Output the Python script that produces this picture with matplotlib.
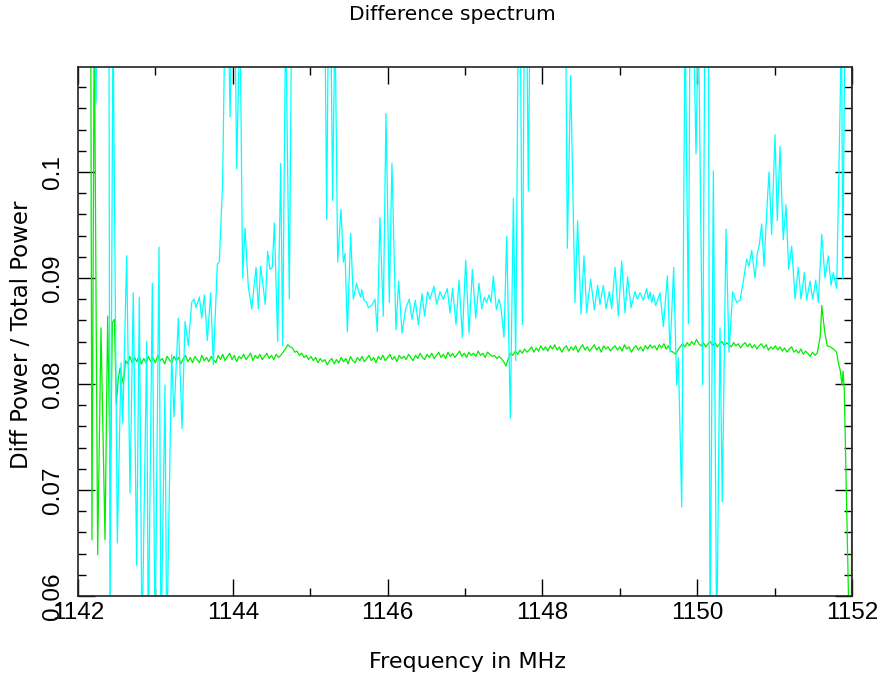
import numpy as np
import matplotlib
matplotlib.use("Agg")
import matplotlib.pyplot as plt
from matplotlib.ticker import MultipleLocator, FuncFormatter

# values are in units of 1e-3 (diff power / total power)
# green: first few channels, then an evenly spaced run, then the band edge
green_start_f = [1142.165, 1142.18, 1142.21, 1142.254, 1142.297, 1142.349, 1142.383,
                 1142.418, 1142.444, 1142.47, 1142.495, 1142.52, 1142.543, 1142.586, 1142.615]
green_start_v = [115, 65.3, 115, 63.9, 85.3, 65.3, 86.4,
                 70.7, 85.8, 86.1, 78.1, 80.5, 81.5, 80.0, 82.2]

green_mid_v = [
    81.9, 82.6, 82.0, 82.5, 82.1, 82.7, 81.9, 82.4, 82.0, 82.6,
    82.1, 82.5, 82.0, 82.7, 82.2, 82.4, 81.9, 82.6, 82.3, 82.0,
    82.6, 82.2, 82.5, 81.9, 82.4, 82.7, 82.1, 82.5, 82.0, 82.6,
    82.3, 82.0, 82.7, 82.2, 82.5, 82.1, 82.6, 82.3, 82.0, 82.7,
    82.3, 82.8, 82.2, 82.6, 82.9, 82.3, 82.7, 82.1, 82.6, 82.4,
    82.8, 82.3, 82.6, 82.9, 82.2, 82.7, 82.4, 82.8, 82.3, 82.6,
    82.9, 82.4, 82.7, 82.3, 82.8, 82.5, 82.7, 83.0, 83.3, 83.7,
    83.5, 83.4, 83.0, 83.1, 82.7, 82.9, 82.5, 82.7, 82.3, 82.6,
    82.2, 82.5, 82.0, 82.4, 82.1, 82.3, 81.8, 82.2, 82.4, 81.9,
    82.3, 82.0, 82.5, 82.1, 82.4, 81.9, 82.6, 82.2, 82.0, 82.5,
    82.2, 82.6, 82.1, 82.4, 82.7, 82.2, 82.5, 82.0, 82.6, 82.3,
    82.7, 82.2, 82.5, 82.8, 82.3, 82.6, 82.1, 82.7, 82.4, 82.6,
    82.3, 82.8, 82.5, 82.2, 82.7, 82.4, 82.9, 82.5, 82.3, 82.8,
    82.5, 82.9, 82.4, 82.7, 83.0, 82.5, 82.8, 82.4, 83.0, 82.6,
    82.9, 82.5, 82.8, 83.1, 82.6, 82.9, 82.5, 83.0, 82.7, 82.9,
    82.6, 83.1, 82.7, 82.9, 82.5, 83.0, 82.8, 82.6, 82.7, 82.4,
    82.6, 82.4, 82.1, 81.7, 82.4, 82.9, 82.7, 83.1, 82.8, 83.2,
    82.9, 83.3, 83.0, 83.2, 83.5, 83.0, 83.4, 83.1, 83.6, 83.2,
    83.5, 83.1, 83.6, 83.3, 83.7, 83.2, 83.5, 83.0, 83.4, 83.6,
    83.1, 83.5, 83.2, 83.6, 83.0, 83.4, 83.7, 83.2, 83.5, 83.1,
    83.4, 83.7, 83.2, 83.5, 83.0, 83.6, 83.3, 83.5, 83.1, 83.4,
    83.6, 83.2, 83.5, 83.1, 83.7, 83.3, 83.5, 83.0, 83.4, 83.6,
    83.2, 83.5, 83.1, 83.6, 83.3, 83.7, 83.4, 83.6, 83.2, 83.7,
    83.4, 83.8, 83.3, 83.6, 83.1, 83.0, 82.8, 83.2, 83.5, 83.8,
    83.5, 83.9, 83.6, 84.0, 83.7, 84.2, 83.8, 83.6, 83.9, 83.5,
    83.8, 84.0, 83.6, 83.9, 83.5, 83.8, 84.0, 83.6, 83.9, 83.7,
    83.5, 83.9, 83.6, 83.8, 83.4, 83.7, 83.9, 83.5, 83.8, 83.4,
    83.7, 83.3, 83.6, 83.8, 83.4, 83.7, 83.2, 83.5, 83.3, 83.6,
    83.2, 83.5, 83.1, 83.4, 83.0, 83.3, 83.5, 83.0, 83.2, 82.9,
    83.3, 82.8, 83.1, 82.9, 82.6, 83.0, 82.7, 82.9,
]
green_mid_f0 = 1142.64
green_mid_step = 0.03

green_end_f = [1151.59, 1151.61, 1151.63, 1151.65, 1151.68, 1151.72, 1151.76, 1151.8,
               1151.83, 1151.85, 1151.87, 1151.885, 1151.9, 1151.96, 1151.994, 1151.996]
green_end_v = [84.5, 87.4, 86.0, 84.8, 83.6, 83.5, 83.3, 83.0,
               81.8, 81.2, 79.9, 81.2, 79.5, 58, 55, 115]

# cyan: (frequency MHz, value)
cyan_points = [
    (1142.205, 115), (1142.233, 106.5), (1142.245, 115), (1142.40, 115), (1142.413, 55),
    (1142.452, 115), (1142.508, 65.0), (1142.556, 82.0), (1142.578, 76.3), (1142.629, 92.1),
    (1142.672, 69.7), (1142.714, 88.6), (1142.758, 62.9), (1142.792, 88.2), (1142.827, 55),
    (1142.888, 84.0), (1142.908, 55), (1142.96, 89.5), (1142.995, 55), (1143.047, 92.9),
    (1143.072, 55), (1143.124, 79.9), (1143.146, 55), (1143.21, 82.8), (1143.24, 76.9),
    (1143.296, 86.2), (1143.344, 75.8), (1143.383, 85.9), (1143.426, 83.6), (1143.469, 87.7),
    (1143.50, 88.0), (1143.525, 87.2), (1143.568, 88.2), (1143.598, 86.2), (1143.633, 88.4),
    (1143.671, 84.1), (1143.714, 88.6), (1143.748, 81.8), (1143.80, 91.3), (1143.826, 91.5),
    (1143.869, 99.1), (1143.899, 115), (1143.94, 115), (1143.965, 105.2), (1143.985, 115),
    (1144.028, 115), (1144.05, 100.3), (1144.093, 115), (1144.127, 90.0), (1144.158, 94.7),
    (1144.20, 89.2), (1144.245, 87.1), (1144.30, 91.0), (1144.33, 87.1), (1144.36, 91.1),
    (1144.42, 87.5), (1144.45, 92.5), (1144.48, 90.8), (1144.51, 91.0), (1144.537, 95.2),
    (1144.58, 84.0), (1144.619, 100.8), (1144.644, 83.6), (1144.683, 115), (1144.73, 88.0),
    (1144.76, 115), (1145.19, 115), (1145.213, 95.5), (1145.235, 115), (1145.265, 115),
    (1145.29, 97.3), (1145.32, 115), (1145.355, 91.5), (1145.398, 96.5), (1145.428, 91.5),
    (1145.45, 92.3), (1145.48, 84.9), (1145.523, 94.2), (1145.557, 88.0), (1145.60, 89.5),
    (1145.622, 88.8), (1145.652, 88.2), (1145.665, 88.9), (1145.695, 87.9), (1145.729, 87.7),
    (1145.751, 87.2), (1145.794, 87.4), (1145.837, 88.0), (1145.867, 84.9), (1145.901, 95.7),
    (1145.944, 86.4), (1145.979, 105.5), (1146.022, 87.7), (1146.056, 100.8), (1146.108, 85.1),
    (1146.143, 89.7), (1146.186, 84.8), (1146.233, 87.1), (1146.28, 88.0), (1146.315, 86.1),
    (1146.358, 87.9), (1146.397, 85.6), (1146.444, 88.5), (1146.478, 86.4), (1146.517, 88.7),
    (1146.547, 88.0), (1146.599, 89.2), (1146.634, 87.5), (1146.677, 88.7), (1146.72, 88.0),
    (1146.771, 89.0), (1146.806, 86.7), (1146.84, 89.0), (1146.884, 85.6), (1146.923, 89.8),
    (1146.966, 84.4), (1147.009, 91.7), (1147.052, 84.8), (1147.095, 90.8), (1147.138, 86.2),
    (1147.181, 89.5), (1147.216, 87.1), (1147.25, 88.2), (1147.28, 87.7), (1147.31, 88.4),
    (1147.336, 87.7), (1147.366, 90.2), (1147.405, 87.0), (1147.44, 88.0), (1147.465, 87.1),
    (1147.504, 84.4), (1147.539, 93.9), (1147.569, 82.8), (1147.586, 76.8), (1147.625, 97.5),
    (1147.655, 82.2), (1147.689, 115), (1147.715, 115), (1147.741, 85.6), (1147.767, 115),
    (1147.797, 115), (1147.818, 98.2), (1147.84, 115), (1148.30, 115), (1148.322, 92.8),
    (1148.365, 109.1), (1148.421, 87.7), (1148.455, 95.4), (1148.499, 86.6), (1148.537, 92.1),
    (1148.572, 86.7), (1148.623, 89.9), (1148.671, 87.0), (1148.714, 89.3), (1148.744, 87.5),
    (1148.787, 89.3), (1148.822, 87.1), (1148.865, 88.7), (1148.895, 87.1), (1148.938, 91.0),
    (1148.981, 86.4), (1149.024, 91.6), (1149.067, 86.7), (1149.101, 90.1), (1149.145, 87.2),
    (1149.196, 88.7), (1149.226, 88.0), (1149.261, 88.6), (1149.304, 87.9), (1149.348, 89.0),
    (1149.369, 88.0), (1149.391, 88.7), (1149.412, 87.7), (1149.434, 88.4), (1149.464, 87.4),
    (1149.52, 88.6), (1149.563, 85.4), (1149.615, 90.2), (1149.649, 83.0), (1149.696, 91.0),
    (1149.735, 79.9), (1149.757, 82.5), (1149.80, 68.4), (1149.843, 115), (1149.886, 85.7),
    (1149.907, 115), (1149.95, 115), (1149.985, 101.7), (1150.015, 115), (1150.071, 79.9),
    (1150.10, 115), (1150.144, 115), (1150.166, 55), (1150.209, 100.1), (1150.252, 55),
    (1150.295, 85.3), (1150.324, 68.9), (1150.372, 94.6), (1150.411, 83.0), (1150.459, 88.7),
    (1150.51, 87.7), (1150.553, 87.9), (1150.596, 89.7), (1150.64, 91.8), (1150.669, 91.1),
    (1150.704, 92.6), (1150.747, 90.0), (1150.777, 92.3), (1150.802, 93.1), (1150.833, 95.1),
    (1150.863, 91.1), (1150.898, 96.2), (1150.928, 100.0), (1150.962, 94.1), (1151.005, 103.5),
    (1151.035, 95.4), (1151.07, 102.4), (1151.112, 93.6), (1151.147, 96.9), (1151.182, 90.8),
    (1151.221, 93.0), (1151.264, 88.0), (1151.306, 91.0), (1151.341, 88.0), (1151.384, 90.5),
    (1151.415, 87.9), (1151.457, 89.7), (1151.492, 88.0), (1151.531, 89.8), (1151.565, 87.7),
    (1151.609, 94.1), (1151.651, 90.0), (1151.694, 92.1), (1151.729, 89.3), (1151.758, 90.5),
    (1151.802, 89.0), (1151.845, 105.7), (1151.865, 115), (1151.88, 89.9), (1151.91, 115),
    (1151.95, 115), (1151.99, 115),
]

green_mid_f = np.round(green_mid_f0 + green_mid_step * np.arange(len(green_mid_v)), 3)
green_f = np.concatenate([green_start_f, green_mid_f, green_end_f])
green_v = np.concatenate([green_start_v, green_mid_v, green_end_v]) / 1000.0
cyan_f = np.array([p[0] for p in cyan_points])
cyan_v = np.array([p[1] for p in cyan_points]) / 1000.0

plt.rcParams["font.family"] = ["DejaVu Sans"]

fig = plt.figure(figsize=(8.86, 6.81), dpi=100)
ax = fig.add_axes([78 / 886, 1 - 596 / 681, 774 / 886, 529 / 681])

ax.plot(green_f, green_v, color="#00ee00", lw=0.9)
ax.plot(cyan_f, cyan_v, color="#00ffff", lw=0.9)

ax.set_xlim(1142, 1152)
ax.set_ylim(0.06, 0.1099)

ax.xaxis.set_major_locator(MultipleLocator(2))
ax.xaxis.set_minor_locator(MultipleLocator(1))
ax.yaxis.set_major_locator(MultipleLocator(0.01))
ax.yaxis.set_minor_locator(MultipleLocator(0.002))
ax.yaxis.set_major_formatter(FuncFormatter(lambda v, p: f"{round(v, 3):g}"))
ax.xaxis.set_major_formatter(FuncFormatter(lambda v, p: f"{v:.0f}"))

ax.tick_params(which="both", direction="in", top=True, right=True, color="black")
ax.tick_params(which="major", length=12, width=1)
ax.tick_params(which="minor", length=6, width=1)
ax.tick_params(axis="x", pad=4)
ax.tick_params(axis="y", pad=10, labelrotation=90)

for lab in ax.get_xticklabels() + ax.get_yticklabels():
    lab.set_family("Liberation Sans")
    lab.set_fontsize(17.5)
for lab in ax.get_yticklabels():
    lab.set_va("center")

for s in ax.spines.values():
    s.set_linewidth(1.2)
    s.set_color("#222222")

fig.text(452 / 886, 1 - 15 / 681, "Difference spectrum", ha="center", va="center", fontsize=14.5)
fig.text(467 / 886, 1 - 662 / 681, "Frequency in MHz", ha="center", va="center", fontsize=16)
fig.text(22 / 886, 1 - 335 / 681, "Diff Power / Total Power", ha="center", va="center",
         rotation=90, fontsize=16.5)

fig.savefig("out.png", dpi=100)
